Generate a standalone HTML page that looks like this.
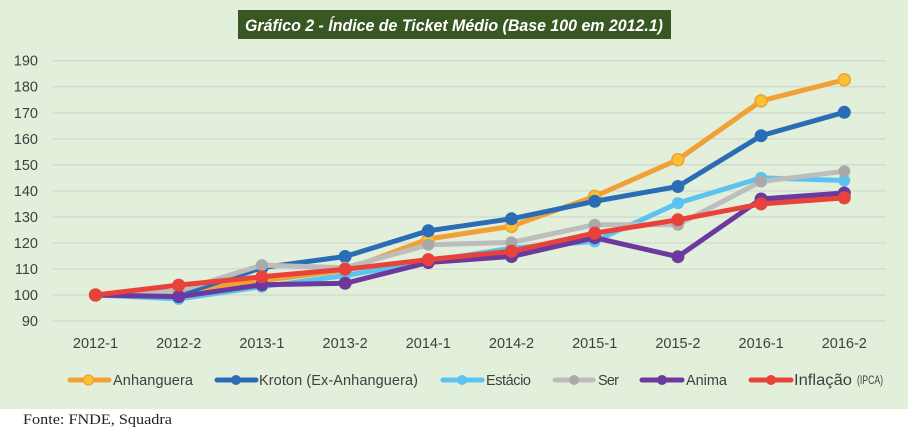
<!DOCTYPE html>
<html><head><meta charset="utf-8"><style>
html,body{margin:0;padding:0;background:#fff;}
svg{display:block;}
</style></head><body>
<svg width="908" height="430" viewBox="0 0 908 430" xmlns="http://www.w3.org/2000/svg">
<rect x="0" y="0" width="908" height="409" fill="#e2efda"/>
<rect x="238" y="10" width="433" height="29" fill="#385723"/>
<text x="245" y="31" font-family="Liberation Sans, sans-serif" font-size="17" font-weight="bold" font-style="italic" fill="#ffffff" textLength="418" lengthAdjust="spacingAndGlyphs">Gráfico 2 - Índice de Ticket Médio (Base 100 em 2012.1)</text>
<g stroke="#d3d9cf" stroke-width="1.3">
<line x1="53" x2="886" y1="60.7" y2="60.7"/>
<line x1="53" x2="886" y1="86.7" y2="86.7"/>
<line x1="53" x2="886" y1="112.8" y2="112.8"/>
<line x1="53" x2="886" y1="138.8" y2="138.8"/>
<line x1="53" x2="886" y1="164.8" y2="164.8"/>
<line x1="53" x2="886" y1="190.9" y2="190.9"/>
<line x1="53" x2="886" y1="216.9" y2="216.9"/>
<line x1="53" x2="886" y1="242.9" y2="242.9"/>
<line x1="53" x2="886" y1="269" y2="269"/>
<line x1="53" x2="886" y1="295" y2="295"/>
<line x1="53" x2="886" y1="321" y2="321"/>
</g>
<g font-family="Liberation Sans, sans-serif" font-size="14.5" fill="#404040" text-anchor="end">
<text x="38" y="65.7">190</text>
<text x="38" y="91.7">180</text>
<text x="38" y="117.8">170</text>
<text x="38" y="143.8">160</text>
<text x="38" y="169.8">150</text>
<text x="38" y="195.9">140</text>
<text x="38" y="221.9">130</text>
<text x="38" y="247.9">120</text>
<text x="38" y="274">110</text>
<text x="38" y="300">100</text>
<text x="38" y="326">90</text>
</g>
<g font-family="Liberation Sans, sans-serif" font-size="14.5" fill="#404040" text-anchor="middle">
<text x="95.5" y="348">2012-1</text>
<text x="178.7" y="348">2012-2</text>
<text x="261.9" y="348">2013-1</text>
<text x="345.1" y="348">2013-2</text>
<text x="428.3" y="348">2014-1</text>
<text x="511.5" y="348">2014-2</text>
<text x="594.7" y="348">2015-1</text>
<text x="677.9" y="348">2015-2</text>
<text x="761.1" y="348">2016-1</text>
<text x="844.3" y="348">2016-2</text>
</g>
<!-- Anhanguera -->
<polyline fill="none" stroke-width="5" stroke-linejoin="round" stroke="#f0a035" points="95.5,295 178.7,291.1 261.9,280.7 345.1,270.3 428.3,239.0 511.5,226.3 594.7,196.4 677.9,159.7 761.1,100.9 844.3,79.8"/>
<g fill="#fbc132" stroke="#f0a035" stroke-width="1.5">
<circle cx="95.5" cy="295" r="6"/><circle cx="178.7" cy="291.1" r="6"/><circle cx="261.9" cy="280.7" r="6"/><circle cx="345.1" cy="270.3" r="6"/><circle cx="428.3" cy="239.0" r="6"/><circle cx="511.5" cy="226.3" r="6"/><circle cx="594.7" cy="196.4" r="6"/><circle cx="677.9" cy="159.7" r="6"/><circle cx="761.1" cy="100.9" r="6"/><circle cx="844.3" cy="79.8" r="6"/>
</g>
<!-- Kroton -->
<polyline fill="none" stroke-width="5" stroke-linejoin="round" stroke="#2b6db5" points="95.5,295 178.7,295 261.9,267.7 345.1,256.5 428.3,230.8 511.5,218.8 594.7,201.3 677.9,186.5 761.1,135.7 844.3,112.3"/>
<g fill="#2b6db5">
<circle cx="95.5" cy="295" r="6.5"/><circle cx="178.7" cy="295" r="6.5"/><circle cx="261.9" cy="267.7" r="6.5"/><circle cx="345.1" cy="256.5" r="6.5"/><circle cx="428.3" cy="230.8" r="6.5"/><circle cx="511.5" cy="218.8" r="6.5"/><circle cx="594.7" cy="201.3" r="6.5"/><circle cx="677.9" cy="186.5" r="6.5"/><circle cx="761.1" cy="135.7" r="6.5"/><circle cx="844.3" cy="112.3" r="6.5"/>
</g>
<!-- Estacio -->
<polyline fill="none" stroke-width="5" stroke-linejoin="round" stroke="#5ac3f0" points="95.5,295 178.7,298.9 261.9,286.7 345.1,275.5 428.3,261.2 511.5,248.1 594.7,241.4 677.9,203.1 761.1,177.9 844.3,180.5"/>
<g fill="#5ac3f0">
<circle cx="95.5" cy="295" r="6"/><circle cx="178.7" cy="298.9" r="6"/><circle cx="261.9" cy="286.7" r="6"/><circle cx="345.1" cy="275.5" r="6"/><circle cx="428.3" cy="261.2" r="6"/><circle cx="511.5" cy="248.1" r="6"/><circle cx="594.7" cy="241.4" r="6"/><circle cx="677.9" cy="203.1" r="6"/><circle cx="761.1" cy="177.9" r="6"/><circle cx="844.3" cy="180.5" r="6"/>
</g>
<!-- Ser -->
<polyline fill="none" stroke-width="5" stroke-linejoin="round" stroke="#bdbdbd" points="95.5,295 178.7,291.1 261.9,265.1 345.1,267.7 428.3,244.8 511.5,242.4 594.7,224.7 677.9,224.7 761.1,181.5 844.3,171.3"/>
<g fill="#a9a9a9">
<circle cx="95.5" cy="295" r="6"/><circle cx="178.7" cy="291.1" r="6"/><circle cx="261.9" cy="265.1" r="6"/><circle cx="345.1" cy="267.7" r="6"/><circle cx="428.3" cy="244.8" r="6"/><circle cx="511.5" cy="242.4" r="6"/><circle cx="594.7" cy="224.7" r="6"/><circle cx="677.9" cy="224.7" r="6"/><circle cx="761.1" cy="181.5" r="6"/><circle cx="844.3" cy="171.3" r="6"/>
</g>
<!-- Anima -->
<polyline fill="none" stroke-width="5" stroke-linejoin="round" stroke="#6b3a9c" points="95.5,295 178.7,296.6 261.9,284.8 345.1,283.3 428.3,262.5 511.5,256.5 594.7,237.7 677.9,256.7 761.1,199.0 844.3,193.0"/>
<g fill="#6b3a9c">
<circle cx="95.5" cy="295" r="6.5"/><circle cx="178.7" cy="296.6" r="6.5"/><circle cx="261.9" cy="284.8" r="6.5"/><circle cx="345.1" cy="283.3" r="6.5"/><circle cx="428.3" cy="262.5" r="6.5"/><circle cx="511.5" cy="256.5" r="6.5"/><circle cx="594.7" cy="237.7" r="6.5"/><circle cx="677.9" cy="256.7" r="6.5"/><circle cx="761.1" cy="199.0" r="6.5"/><circle cx="844.3" cy="193.0" r="6.5"/>
</g>
<!-- Inflacao -->
<polyline fill="none" stroke-width="5" stroke-linejoin="round" stroke="#e8423a" points="95.5,295 178.7,285.1 261.9,276.8 345.1,269.3 428.3,259.6 511.5,251.3 594.7,233.1 677.9,219.8 761.1,203.9 844.3,197.9"/>
<g fill="#e8423a">
<circle cx="95.5" cy="295" r="6.5"/><circle cx="178.7" cy="285.1" r="6.5"/><circle cx="261.9" cy="276.8" r="6.5"/><circle cx="345.1" cy="269.3" r="6.5"/><circle cx="428.3" cy="259.6" r="6.5"/><circle cx="511.5" cy="251.3" r="6.5"/><circle cx="594.7" cy="233.1" r="6.5"/><circle cx="677.9" cy="219.8" r="6.5"/><circle cx="761.1" cy="203.9" r="6.5"/><circle cx="844.3" cy="197.9" r="6.5"/>
</g>
<!-- legend -->
<g stroke-width="5" stroke-linecap="round">
<line x1="70" x2="109" y1="380" y2="380" stroke="#f0a035"/>
<line x1="217" x2="256" y1="380" y2="380" stroke="#2b6db5"/>
<line x1="443" x2="482" y1="380" y2="380" stroke="#5ac3f0"/>
<line x1="555" x2="593" y1="380" y2="380" stroke="#bdbdbd"/>
<line x1="642" x2="682" y1="380" y2="380" stroke="#6b3a9c"/>
<line x1="751" x2="791" y1="380" y2="380" stroke="#e8423a"/>
</g>
<circle cx="88.5" cy="380" r="5" fill="#fbc132" stroke="#f0a035" stroke-width="1.3"/>
<circle cx="236" cy="380" r="5" fill="#2b6db5"/>
<circle cx="462" cy="380" r="5" fill="#5ac3f0"/>
<circle cx="574" cy="380" r="5" fill="#a9a9a9"/>
<circle cx="662" cy="380" r="5" fill="#6b3a9c"/>
<circle cx="771" cy="380" r="5" fill="#e8423a"/>
<g font-family="Liberation Sans, sans-serif" font-size="14.5" fill="#404040">
<text x="113" y="385" textLength="80" lengthAdjust="spacing">Anhanguera</text>
<text x="259" y="385" textLength="159" lengthAdjust="spacing">Kroton (Ex-Anhanguera)</text>
<text x="486" y="385" textLength="45" lengthAdjust="spacing">Estácio</text>
<text x="598" y="385" textLength="21" lengthAdjust="spacing">Ser</text>
<text x="686" y="385" textLength="41" lengthAdjust="spacing">Anima</text>
<text x="794" y="385" font-size="15.5" textLength="58" lengthAdjust="spacingAndGlyphs">Inflação</text>
<text x="857" y="384" font-size="11.5" textLength="26" lengthAdjust="spacingAndGlyphs">(IPCA)</text>
</g>
<text x="23" y="424" font-family="Liberation Serif, serif" font-size="15" fill="#222" textLength="149" lengthAdjust="spacingAndGlyphs">Fonte: FNDE, Squadra</text>
</svg>
</body></html>
